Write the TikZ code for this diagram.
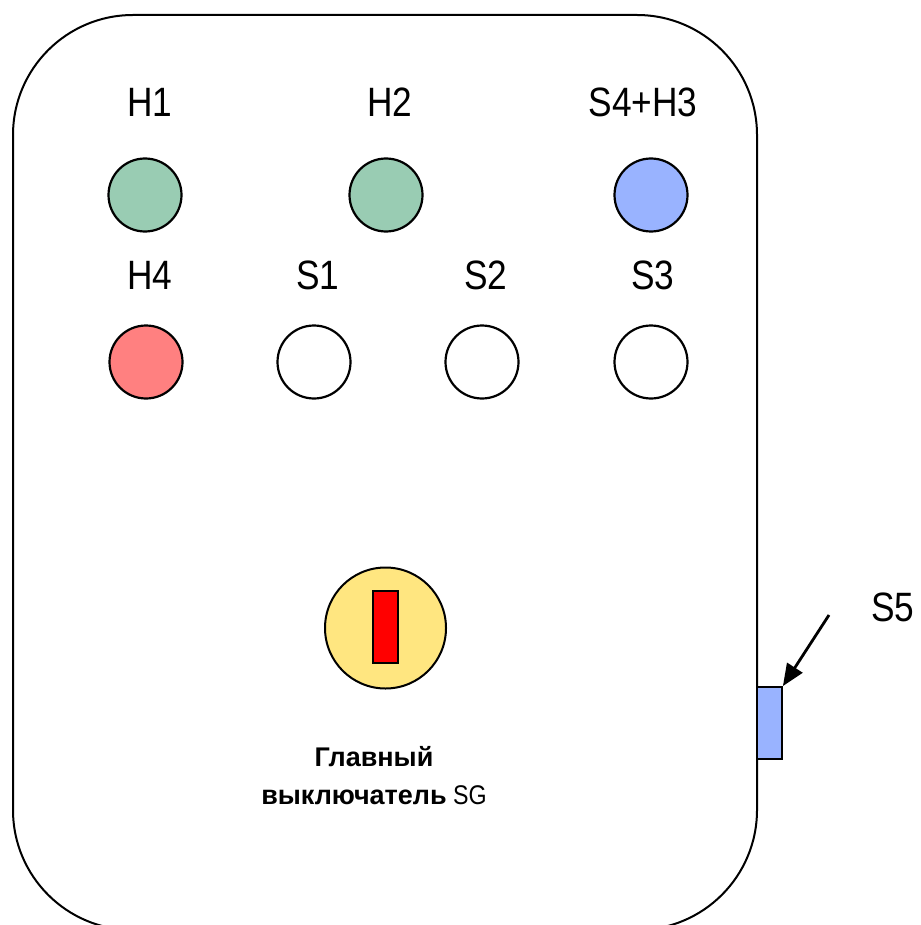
\documentclass[tikz,border=0pt]{standalone}
\usepackage{fontspec}
\setmainfont[FakeStretch=0.86]{Liberation Sans}
\newfontfamily\boldwide[BoldFont={Liberation Sans Bold}]{Liberation Sans}
\usetikzlibrary{arrows.meta}
\definecolor{lampgreen}{RGB}{153,204,179}
\definecolor{lampblue}{RGB}{153,179,255}
\definecolor{lampred}{RGB}{255,128,128}
\definecolor{knobyellow}{RGB}{255,230,128}
\definecolor{keyred}{RGB}{255,0,0}
\tikzset{
  lamp/.style={circle, draw=black, line width=2.2pt, minimum size=73pt, inner sep=0pt},
  lbl/.style={anchor=base, inner sep=0pt, font=\fontsize{41}{44}\selectfont},
  caption/.style={anchor=base, inner sep=0pt, font=\fontsize{27}{30}\selectfont},
}
\begin{document}
\begin{tikzpicture}[x=1pt,y=-1pt]
\useasboundingbox (0,0) rectangle (920,925);
\clip (0,0) rectangle (920,925);
% housing
\draw[line width=2pt, rounded corners=120pt] (13,15) rectangle (757,930);
% labels row 1
\node[lbl] (lH1) at (150,117) {H1};
\node[lbl] (lH2) at (390,117) {H2};
\node[lbl] (lS4) at (643,117) {S4+H3};
% lamps row 1
\node[lamp, fill=lampgreen] (H1) at (145,195) {};
\node[lamp, fill=lampgreen] (H2) at (386,195) {};
\node[lamp, fill=lampblue] (S4) at (651,195) {};
% labels row 2
\node[lbl] (lH4) at (150,289) {H4};
\node[lbl] (lS1) at (318,289) {S1};
\node[lbl] (lS2) at (486,289) {S2};
\node[lbl] (lS3) at (653,289) {S3};
% row 2
\node[lamp, fill=lampred] (H4) at (146,362) {};
\node[lamp, fill=white] (S1) at (314,362) {};
\node[lamp, fill=white] (S2) at (482,362) {};
\node[lamp, fill=white] (S3) at (651,362) {};
% main switch
\node[circle, draw=black, line width=2pt, fill=knobyellow, minimum size=121pt, inner sep=0pt] (SG) at (385.5,628) {};
\node[draw=black, line width=1.8pt, fill=keyred, minimum width=25pt, minimum height=72pt, inner sep=0pt] (key) at (385.5,627) {};
\node[caption] (cap1) at (374,766) {\boldwide\bfseries Главный};
\node[caption] (cap2) at (374,804) {{\boldwide\bfseries выключатель} SG};
% S5
\node[draw=black, line width=1.8pt, fill=lampblue, minimum width=25pt, minimum height=72pt, inner sep=0pt] (S5) at (769.5,723) {};
\node[lbl] (lS5) at (893,621) {S5};
\coordinate (tail) at (829,615);
\draw[line width=2.8pt, -{Triangle[length=22pt,width=18pt]}] (tail) -- (S5.north east);
\end{tikzpicture}
\end{document}
